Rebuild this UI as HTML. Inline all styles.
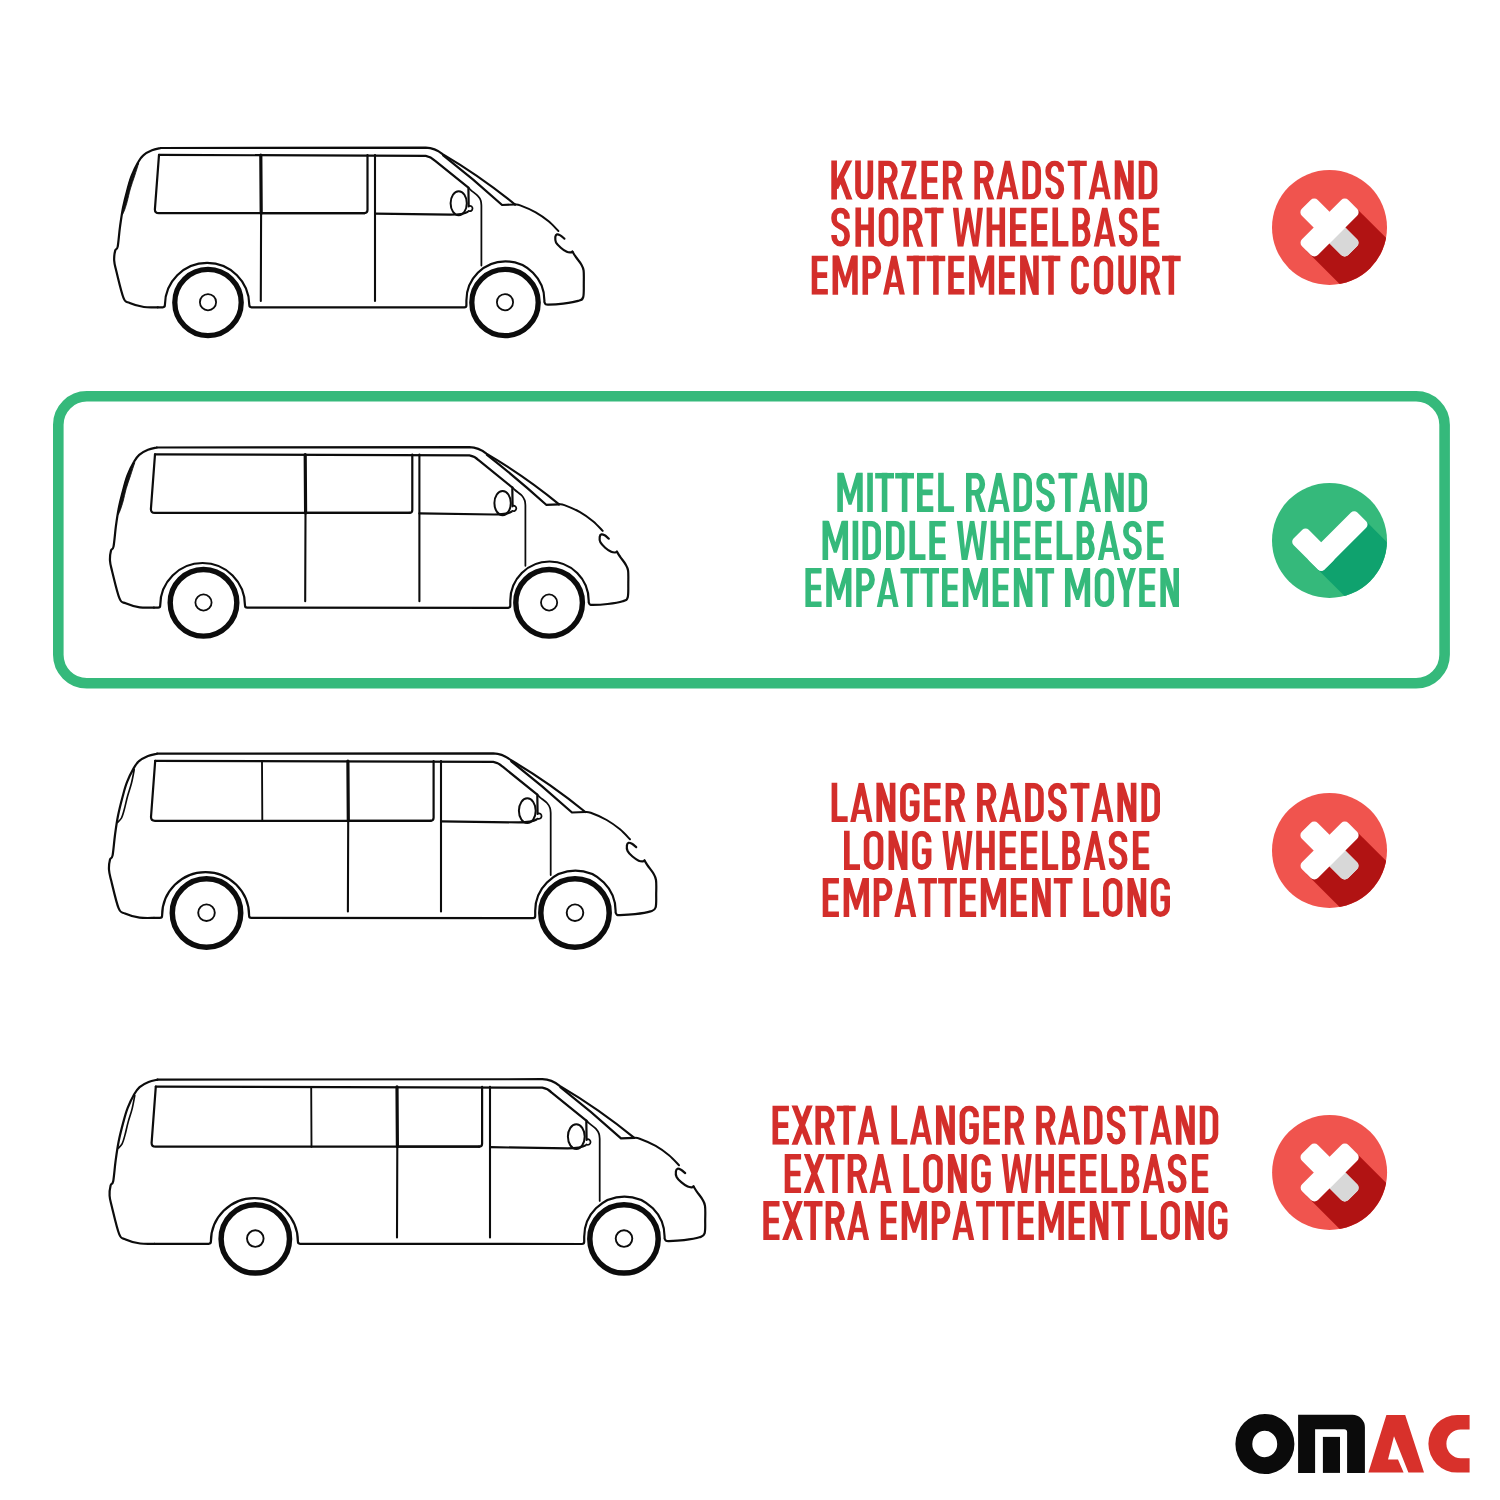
<!DOCTYPE html>
<html><head><meta charset="utf-8"><style>
html,body{margin:0;padding:0;background:#fff;width:1500px;height:1500px;overflow:hidden}
svg{display:block}
text{font-family:"Liberation Sans",sans-serif;font-weight:bold}
</style></head><body>
<svg width="1500" height="1500" viewBox="0 0 1500 1500">
<rect width="1500" height="1500" fill="#fff"/>
<rect x="58.3" y="396.3" width="1386.3" height="287" rx="28.5" fill="none" stroke="#35b97b" stroke-width="10.6"/>
<g fill="none" stroke="#0c0c0c" stroke-linecap="round" stroke-linejoin="round"><path d="M157.8 307.3 C155.5 307.2 148.6 307.7 143.9 307 C139.2 306.3 133.1 304.5 129.7 303 C126.3 301.5 125.7 303.2 123.5 297.8 C121.3 292.5 117.9 277.3 116.3 271.1 C114.8 264.9 114.4 264 114.2 260.6 C114 257.2 114.6 252.9 115.2 250.6 C115.8 248.3 116.9 250.6 117.7 246.6 C118.5 242.7 119.1 233.2 120 226.8 C120.9 220.4 121.7 214.5 122.9 208.2 C124.2 201.9 126.1 194.4 127.6 189 C129 183.6 129.9 180.1 131.7 175.6 C133.4 171.2 136.1 165.6 138.1 162.2 C140 158.8 141 157.2 143.3 155.3 C145.6 153.3 149.1 151.5 152 150.3 C154.9 149.1 159.3 148.4 160.8 148" stroke-width="2.2"/>
<path d="M157.8 307.3 L162.8 307.3 Q164.9 307.3 164.9 305.1 L164.9 305.1 A42.2 42.2 0 1 1 249.3 305.1 L249.3 305.1 Q249.3 307.3 251.5 307.3 L464.3 307.4 Q466.4 307.4 466.4 305.3 L466.4 300.4 A39 39 0 1 1 544.4 300.4 L544.4 302 C544.6 302.4 544.8 303.6 545.5 304.1 C546.3 304.5 545.7 304.7 548.6 304.6 C551.6 304.6 558.3 304.3 563.2 303.7 C568.1 303 574.9 302 578.2 300.9 C581.6 299.9 582.3 300.1 583.2 297.2 C584.1 294.2 583.7 287.5 583.8 283.1 C583.8 278.7 584 273.7 583.6 270.5 C583.1 267.3 582.2 266.3 581 264 C579.7 261.7 577.2 259 575.8 256.9 C574.4 254.8 573 252.5 572.4 251.6" stroke-width="2.2"/>
<path d="M572.4 251.6 C572.1 251.7 571.7 252.4 570.8 252.4 C569.8 252.5 568.5 252.6 566.8 251.8 C565.1 251 562.6 249.3 560.8 247.7 C559 246.1 556.9 244.1 556 242.4 C555.1 240.6 555.2 238.4 555.3 237 C555.5 235.7 556.2 234.7 557 234.4 C557.8 234.1 559.1 234.7 560.3 235.4 C561.5 236.1 563.7 238.1 564.4 238.7" stroke-width="2.2"/>
<path d="M160.8 148 L425.8 147.6 C434.2 147.8 439 151.2 442.6 154.1 Q480.6 176.4 515 204.5" stroke-width="2.2"/>
<path d="M515 204.5 C515.9 204.7 516.8 204 520.2 205.3 C523.7 206.6 531 209.6 535.7 212.3 C540.5 215 544.9 218.2 548.6 221.3 C552.4 224.4 556.7 229.4 558.4 231" stroke-width="1.9800000000000002"/>
<path d="M443.2 155.4 Q473.5 179 502.1 205 L515 204.5" stroke-width="2.2"/>
<path d="M159 154.9 L425.8 155.8 C430.3 156.6 432.7 158.5 434.9 160.6 L468.4 187.7 L468.7 206.5" stroke-width="2.2"/>
<path d="M159 154.9 L154.9 209.4 Q154.9 213.1 158.8 213.1 L364.5 213.1" stroke-width="2.2"/>
<path d="M367.5 155.1 L367.5 210.1 Q367.5 213.1 364.5 213.1" stroke-width="2.2"/>
<path d="M260.8 155.1 L261.2 213.1" stroke-width="3.19"/>
<path d="M261.1 213.1 L260.8 301" stroke-width="2.09"/>
<path d="M260.8 213.1 L364.5 213.1" stroke-width="2.2"/>
<path d="M375 155.1 L375 301" stroke-width="2.09"/>
<path d="M375 213.6 L450.4 214.6 C456.5 214.6 464.3 214 467.7 211.8" stroke-width="2.2"/>
<ellipse cx="458.7" cy="203.3" rx="8.1" ry="12" stroke-width="1.9800000000000002"/>
<path d="M469.1 205.9 A2.7 2.7 0 1 1 468.6 210.9" stroke-width="1.7600000000000002"/>
<path d="M468.5 187.6 C468.9 188 469.5 188.9 471.1 190.3 C472.6 191.6 476.2 194.1 477.8 195.8 C479.5 197.5 480.2 199 480.8 200.7 C481.3 202.3 481.3 204.7 481.4 205.5 L481.4 265.6" stroke-width="1.7600000000000002"/>
<path d="M138.6 163.4 C137.5 165.4 133.5 171.4 131.7 175.6 C129.8 179.9 128.8 184.7 127.6 189 C126.4 193.3 125.5 198.4 124.7 201.6 C123.9 204.8 123.3 206 122.9 208.2 C122.6 210.4 122.6 213.6 122.5 214.6 C122.9 213.7 124 211.5 124.8 209.4 C125.5 207.2 126.3 205 127.2 201.6 C128.1 198.2 129.1 193.3 130.3 189 C131.5 184.7 133.2 180.3 134.6 176 C136 171.7 138 165.5 138.6 163.4 Z" fill="#111" stroke-width="0.8"/>
<circle cx="208" cy="302.5" r="33.2" stroke-width="5.3"/>
<circle cx="505" cy="302.5" r="33.2" stroke-width="5.3"/>
<circle cx="208" cy="302.2" r="8.1" stroke-width="1.8"/>
<circle cx="505" cy="302.2" r="8.1" stroke-width="1.8"/></g>
<g fill="none" stroke="#0c0c0c" stroke-linecap="round" stroke-linejoin="round"><path d="M153.9 607.6 C151.5 607.5 144.5 608 139.8 607.3 C135.1 606.6 129 604.8 125.6 603.3 C122.2 601.8 121.6 603.5 119.4 598.1 C117.1 592.8 113.7 577.4 112.1 571.2 C110.6 565 110.2 564.1 110 560.7 C109.8 557.3 110.4 553 111 550.6 C111.6 548.3 112.7 550.6 113.5 546.6 C114.3 542.7 115 533.2 115.8 526.8 C116.7 520.3 117.5 514.4 118.8 508 C120 501.7 122 494.2 123.5 488.7 C124.9 483.3 125.8 479.8 127.5 475.3 C129.3 470.8 132 465.2 134 461.8 C135.9 458.4 136.9 456.8 139.2 454.8 C141.6 452.8 145.1 451 148 449.8 C151 448.6 155.3 447.9 156.8 447.5" stroke-width="2.2"/>
<path d="M153.9 607.6 L158.1 607.6 Q160.2 607.6 160.2 605.4 L160.2 605.4 A42.4 42.4 0 1 1 245 605.4 L245 605.4 Q245 607.6 247.2 607.6 L508.2 607.8 Q510.3 607.8 510.3 605.6 L510.3 600.7 A39.2 39.2 0 1 1 588.7 600.7 L588.7 602.3 C588.9 602.7 589.1 603.9 589.9 604.4 C590.6 604.8 590 605 593 604.9 C595.9 604.9 602.6 604.6 607.6 604 C612.6 603.4 619.4 602.3 622.7 601.2 C626.1 600.2 626.8 600.4 627.7 597.4 C628.6 594.4 628.2 587.8 628.3 583.3 C628.3 578.8 628.5 573.8 628.1 570.6 C627.6 567.4 626.7 566.4 625.4 564.1 C624.1 561.8 621.7 559.1 620.3 557 C618.8 554.9 617.4 552.5 616.9 551.6" stroke-width="2.2"/>
<path d="M616.9 551.6 C616.6 551.8 616.1 552.5 615.2 552.5 C614.3 552.5 612.9 552.6 611.2 551.8 C609.5 551 607 549.3 605.2 547.7 C603.4 546.1 601.3 544.1 600.4 542.3 C599.5 540.6 599.5 538.3 599.7 537 C599.9 535.7 600.5 534.6 601.4 534.4 C602.2 534.1 603.4 534.6 604.7 535.3 C605.9 536 608.1 538.1 608.8 538.6" stroke-width="2.2"/>
<path d="M156.8 447.5 L469.4 447.1 C477.9 447.3 482.8 450.7 486.4 453.6 Q524.5 476 559.1 504.3" stroke-width="2.2"/>
<path d="M559.1 504.3 C560 504.5 560.9 503.8 564.4 505.1 C567.9 506.4 575.2 509.4 580 512.1 C584.8 514.8 589.2 518.1 593 521.2 C596.8 524.3 601.1 529.3 602.7 530.9" stroke-width="1.9800000000000002"/>
<path d="M487 454.9 Q517.4 478.7 546.2 504.8 L559.1 504.3" stroke-width="2.2"/>
<path d="M155 454.4 L469.4 455.4 C474 456.2 476.5 458 478.6 460.2 L512.3 487.5 L512.6 506.3" stroke-width="2.2"/>
<path d="M155 454.4 L150.9 509.2 Q150.9 512.9 154.8 512.9 L409.3 512.9" stroke-width="2.2"/>
<path d="M412.3 454.6 L412.3 509.9 Q412.3 512.9 409.3 512.9" stroke-width="2.2"/>
<path d="M305.2 454.6 L305.6 512.9" stroke-width="3.19"/>
<path d="M305.5 512.9 L305.2 601.3" stroke-width="2.09"/>
<path d="M305.2 512.9 L409.3 512.9" stroke-width="2.2"/>
<path d="M419.4 454.6 L419.4 601.3" stroke-width="2.09"/>
<path d="M419.4 513.4 L494.2 514.5 C500.4 514.5 508.2 513.9 511.6 511.6" stroke-width="2.2"/>
<ellipse cx="502.6" cy="503.1" rx="8.2" ry="12.1" stroke-width="1.9800000000000002"/>
<path d="M513 505.7 A2.7 2.7 0 1 1 512.5 510.8" stroke-width="1.7600000000000002"/>
<path d="M512.4 487.3 C512.9 487.7 513.4 488.6 515 490 C516.5 491.4 520.2 493.8 521.8 495.5 C523.4 497.3 524.1 498.8 524.7 500.4 C525.3 502 525.3 504.5 525.4 505.3 L525.4 565.8" stroke-width="1.7600000000000002"/>
<path d="M134.6 463 C133.4 465 129.4 471 127.5 475.3 C125.7 479.6 124.6 484.4 123.5 488.7 C122.3 493.1 121.3 498.2 120.5 501.4 C119.8 504.6 119.1 505.9 118.8 508 C118.4 510.2 118.5 513.4 118.4 514.5 C118.8 513.6 119.8 511.4 120.6 509.2 C121.4 507 122.1 504.8 123.1 501.4 C124 498 125 493 126.2 488.7 C127.4 484.4 129.1 479.9 130.5 475.7 C131.9 471.4 133.9 465.1 134.6 463 Z" fill="#111" stroke-width="0.8"/>
<circle cx="203.5" cy="602.8" r="33.3" stroke-width="5.4"/>
<circle cx="549.1" cy="602.8" r="33.3" stroke-width="5.4"/>
<circle cx="203.5" cy="602.5" r="8.1" stroke-width="1.8"/>
<circle cx="549.1" cy="602.5" r="8.1" stroke-width="1.8"/></g>
<g fill="none" stroke="#0c0c0c" stroke-linecap="round" stroke-linejoin="round"><path d="M154 917.9 C151.6 917.9 144.4 918.3 139.6 917.6 C134.8 916.9 128.5 915.1 125 913.5 C121.5 911.9 120.9 913.7 118.6 908.2 C116.3 902.7 112.8 887 111.2 880.6 C109.6 874.2 109.2 873.3 109 869.8 C108.8 866.3 109.4 861.9 110 859.5 C110.6 857.1 111.8 859.5 112.6 855.4 C113.4 851.3 114.1 841.6 115 835 C115.9 828.4 116.7 822.3 118 815.8 C119.3 809.3 121.3 801.6 122.8 796 C124.3 790.4 125.2 786.8 127 782.2 C128.8 777.6 131.6 771.9 133.6 768.4 C135.6 764.9 136.6 763.2 139 761.2 C141.4 759.2 145 757.4 148 756.1 C151 754.9 155.5 754.1 157 753.7" stroke-width="2.2"/>
<path d="M154 917.9 L159.9 917.9 Q162.1 917.9 162.1 915.7 L162.1 915.6 A43.5 43.5 0 1 1 249.1 915.6 L249.1 915.7 Q249.1 917.9 251.3 917.9 L533 918.1 Q535.2 918.1 535.2 915.9 L535.2 910.9 A40.2 40.2 0 1 1 615.6 910.9 L615.6 912.5 C615.8 912.9 616.1 914.1 616.8 914.6 C617.5 915.1 617 915.3 620 915.2 C623 915.1 629.9 914.8 635 914.2 C640.1 913.6 647.1 912.5 650.5 911.4 C653.9 910.3 654.6 910.6 655.6 907.5 C656.6 904.4 656.1 897.6 656.2 893 C656.3 888.4 656.5 883.3 656 880 C655.5 876.7 654.6 875.6 653.3 873.3 C652 871 649.5 868.1 648 866 C646.5 863.9 645.1 861.4 644.5 860.5" stroke-width="2.2"/>
<path d="M644.5 860.5 C644.2 860.6 643.8 861.4 642.8 861.4 C641.8 861.4 640.4 861.5 638.7 860.7 C637 859.9 634.4 858.1 632.5 856.5 C630.6 854.9 628.5 852.8 627.6 851 C626.7 849.2 626.7 846.9 626.9 845.5 C627.1 844.1 627.8 843.1 628.6 842.8 C629.5 842.5 630.7 843.1 632 843.8 C633.3 844.5 635.5 846.6 636.2 847.2" stroke-width="2.2"/>
<path d="M157 753.7 L493.3 753.3 C502 753.5 507 757 510.7 760 Q549.8 783 585.3 812" stroke-width="2.2"/>
<path d="M585.3 812 C586.2 812.1 587.1 811.5 590.7 812.8 C594.3 814.1 601.8 817.2 606.7 820 C611.6 822.8 616.1 826.1 620 829.3 C623.9 832.5 628.3 837.6 630 839.3" stroke-width="1.9800000000000002"/>
<path d="M511.3 761.3 Q542.5 785.7 572 812.5 L585.3 812" stroke-width="2.2"/>
<path d="M155.2 760.8 L493.3 761.8 C498 762.6 500.5 764.5 502.7 766.7 L537.3 794.7 L537.6 814" stroke-width="2.2"/>
<path d="M155.2 760.8 L151 817 Q151 820.8 155 820.8 L430.6 820.8" stroke-width="2.2"/>
<path d="M433.6 761 L433.6 817.8 Q433.6 820.8 430.6 820.8" stroke-width="2.2"/>
<path d="M262 761 L262.3 820.8" stroke-width="1.87"/>
<path d="M347.9 761 L348.3 820.8" stroke-width="3.19"/>
<path d="M348.2 820.8 L347.9 911.5" stroke-width="2.09"/>
<path d="M347.9 820.8 L430.6 820.8" stroke-width="2.2"/>
<path d="M441 761 L441 911.5" stroke-width="2.09"/>
<path d="M441 821.3 L518.7 822.4 C525 822.4 533 821.8 536.5 819.5" stroke-width="2.2"/>
<ellipse cx="527.3" cy="810.7" rx="8.4" ry="12.4" stroke-width="1.9800000000000002"/>
<path d="M538 813.4 A2.8 2.8 0 1 1 537.5 818.6" stroke-width="1.7600000000000002"/>
<path d="M537.4 794.5 C537.8 795 538.4 795.9 540 797.3 C541.6 798.7 545.3 801.2 547 803 C548.7 804.8 549.4 806.3 550 808 C550.6 809.7 550.6 812.2 550.7 813 L550.7 875" stroke-width="1.7600000000000002"/>
<path d="M134.2 769.6 C133.8 771.8 132.6 778.6 131.5 783 C130.4 787.4 128.8 791.7 127.6 796 C126.4 800.3 125.4 805.3 124.4 809 C123.4 812.7 122.6 815.8 121.5 818 C120.4 820.2 118.2 821.7 117.6 822.4" stroke-width="1.6500000000000001"/>
<circle cx="206.5" cy="913" r="34.2" stroke-width="5.5"/>
<circle cx="575" cy="913" r="34.2" stroke-width="5.5"/>
<circle cx="206.5" cy="912.7" r="8.3" stroke-width="1.9"/>
<circle cx="575" cy="912.7" r="8.3" stroke-width="1.9"/></g>
<g fill="none" stroke="#0c0c0c" stroke-linecap="round" stroke-linejoin="round"><path d="M154.6 1243.8 C152.2 1243.8 145 1244.2 140.2 1243.5 C135.4 1242.8 129.1 1241 125.6 1239.4 C122.1 1237.8 121.5 1239.6 119.2 1234.1 C116.9 1228.6 113.4 1212.9 111.8 1206.5 C110.2 1200.1 109.8 1199.2 109.6 1195.7 C109.4 1192.2 110 1187.8 110.6 1185.4 C111.2 1183 112.4 1185.4 113.2 1181.3 C114 1177.2 114.7 1167.5 115.6 1160.9 C116.5 1154.3 117.3 1148.2 118.6 1141.7 C119.9 1135.2 121.9 1127.5 123.4 1121.9 C124.9 1116.3 125.8 1112.7 127.6 1108.1 C129.4 1103.5 132.2 1097.8 134.2 1094.3 C136.2 1090.8 137.2 1089.2 139.6 1087.1 C142 1085.1 145.6 1083.2 148.6 1082 C151.6 1080.8 156.1 1080 157.6 1079.6" stroke-width="2.2"/>
<path d="M154.6 1243.8 L208.7 1243.8 Q210.9 1243.8 210.9 1241.6 L210.9 1241.6 A43.5 43.5 0 1 1 297.9 1241.6 L297.9 1241.6 Q297.9 1243.8 300.1 1243.8 L582 1244 Q584.2 1244 584.2 1241.8 L584.2 1236.8 A40.2 40.2 0 1 1 664.6 1236.8 L664.6 1238.4 C664.8 1238.8 665.1 1240 665.8 1240.5 C666.5 1241 666 1241.2 669 1241.1 C672 1241 678.9 1240.7 684 1240.1 C689.1 1239.5 696.1 1238.4 699.5 1237.3 C702.9 1236.2 703.6 1236.5 704.6 1233.4 C705.6 1230.3 705.1 1223.5 705.2 1218.9 C705.3 1214.3 705.5 1209.2 705 1205.9 C704.5 1202.6 703.6 1201.5 702.3 1199.2 C701 1196.9 698.5 1194 697 1191.9 C695.5 1189.8 694.1 1187.3 693.5 1186.4" stroke-width="2.2"/>
<path d="M693.5 1186.4 C693.2 1186.6 692.8 1187.3 691.8 1187.3 C690.8 1187.3 689.4 1187.4 687.7 1186.6 C686 1185.8 683.4 1184 681.5 1182.4 C679.6 1180.8 677.5 1178.7 676.6 1176.9 C675.7 1175.1 675.7 1172.8 675.9 1171.4 C676.1 1170 676.8 1169 677.6 1168.7 C678.5 1168.4 679.7 1169 681 1169.7 C682.3 1170.4 684.5 1172.5 685.2 1173.1" stroke-width="2.2"/>
<path d="M157.6 1079.6 L542.3 1079.2 C551 1079.4 556 1082.9 559.7 1085.9 Q598.8 1108.9 634.3 1137.9" stroke-width="2.2"/>
<path d="M634.3 1137.9 C635.2 1138 636.1 1137.4 639.7 1138.7 C643.3 1140 650.8 1143.2 655.7 1145.9 C660.6 1148.7 665.1 1152 669 1155.2 C672.9 1158.4 677.3 1163.5 679 1165.2" stroke-width="1.9800000000000002"/>
<path d="M560.3 1087.2 Q591.5 1111.6 621 1138.4 L634.3 1137.9" stroke-width="2.2"/>
<path d="M155.8 1086.7 L542.3 1087.7 C547 1088.5 549.5 1090.4 551.7 1092.6 L586.3 1120.6 L586.6 1139.9" stroke-width="2.2"/>
<path d="M155.8 1086.7 L151.6 1142.9 Q151.6 1146.7 155.6 1146.7 L479.1 1146.7" stroke-width="2.2"/>
<path d="M482.1 1086.9 L482.1 1143.7 Q482.1 1146.7 479.1 1146.7" stroke-width="2.2"/>
<path d="M311.2 1086.9 L311.5 1146.7" stroke-width="1.87"/>
<path d="M397 1086.9 L397.4 1146.7" stroke-width="3.19"/>
<path d="M397.3 1146.7 L397 1237.4" stroke-width="2.09"/>
<path d="M397 1146.7 L479.1 1146.7" stroke-width="2.2"/>
<path d="M490 1086.9 L490 1237.4" stroke-width="2.09"/>
<path d="M490 1147.2 L567.7 1148.3 C574 1148.3 582 1147.7 585.5 1145.4" stroke-width="2.2"/>
<ellipse cx="576.3" cy="1136.6" rx="8.4" ry="12.4" stroke-width="1.9800000000000002"/>
<path d="M587 1139.3 A2.8 2.8 0 1 1 586.5 1144.5" stroke-width="1.7600000000000002"/>
<path d="M586.4 1120.4 C586.8 1120.9 587.4 1121.8 589 1123.2 C590.6 1124.6 594.3 1127.1 596 1128.9 C597.7 1130.7 598.4 1132.2 599 1133.9 C599.6 1135.6 599.6 1138.1 599.7 1138.9 L599.7 1200.9" stroke-width="1.7600000000000002"/>
<path d="M134.8 1095.5 C134.3 1097.7 133.2 1104.5 132.1 1108.9 C131 1113.3 129.4 1117.6 128.2 1121.9 C127 1126.2 126 1131.2 125 1134.9 C124 1138.6 123.2 1141.7 122.1 1143.9 C121 1146.1 118.8 1147.6 118.2 1148.3" stroke-width="1.6500000000000001"/>
<circle cx="255.3" cy="1238.9" r="34.2" stroke-width="5.5"/>
<circle cx="624" cy="1238.9" r="34.2" stroke-width="5.5"/>
<circle cx="255.3" cy="1238.6" r="8.3" stroke-width="1.9"/>
<circle cx="624" cy="1238.6" r="8.3" stroke-width="1.9"/></g>
<defs><clipPath id="tb"><rect x="-30" y="0" width="3000" height="39.2"/></clipPath></defs>
<g transform="translate(831.30 160.50) scale(1.0118 0.9974)" clip-path="url(#tb)"><g fill="none" stroke="#d32e2b" stroke-width="5.6" stroke-linecap="butt" stroke-linejoin="miter" stroke-miterlimit="3"><path transform="translate(0.00 0)" d="M2.8 -2 V41 M18.6 -2 L4.2 27.5 M9.4 16.2 L18.6 41"/><path transform="translate(23.60 0)" d="M2.8 -2 V29.2 A6.1 7.2 0 0 0 15 29.2 V-2"/><path transform="translate(46.50 0)" d="M2.8 41 V2.8 H9.6 A6.7 8.6 0 0 1 9.6 20 H2.8 M10.4 19.4 L17.4 41"/><path transform="translate(89.10 0)" d="M16.3 2.8 H2.8 V36.4 H16.3 M2.8 19.6 H15.6"/><path transform="translate(110.30 0)" d="M2.8 41 V2.8 H9.6 A6.7 8.6 0 0 1 9.6 20 H2.8 M10.4 19.4 L17.4 41"/><path transform="translate(141.40 0)" d="M2.8 41 V2.8 H9.6 A6.7 8.6 0 0 1 9.6 20 H2.8 M10.4 19.4 L17.4 41"/><path transform="translate(188.90 0)" d="M2.8 2.8 H8.2 A7.4 7.6 0 0 1 15.6 10.4 V28.8 A7.4 7.6 0 0 1 8.2 36.4 H2.8 Z"/><path transform="translate(211.60 0)" d="M15.6 11.2 V9.8 A6.4 7.0 0 0 0 2.8 9.8 V11.2 C2.8 16 5.2 17.6 9.4 19.3 C13.6 21 15.7 23.2 15.7 28.2 V29.1 A6.45 7.3 0 0 1 2.8 29.1 V27.4"/><path transform="translate(233.70 0)" d="M0 2.8 H18.8 M9.4 -2 V41"/><path transform="translate(280.10 0)" d="M2.8 41 V-2 M16 -2 V41"/><path transform="translate(303.80 0)" d="M2.8 2.8 H8.2 A7.4 7.6 0 0 1 15.6 10.4 V28.8 A7.4 7.6 0 0 1 8.2 36.4 H2.8 Z"/></g><g fill="#d32e2b" fill-rule="evenodd"><path transform="translate(68.60 0)" d="M0.8 0 H15.4 V5.4 L6.0 33.8 H15.6 V39.2 H0 V33.8 L9.4 5.6 H0.8 Z"/><path transform="translate(163.10 0)" d="M0 39.2 L8.4 0 H13.6 L22 39.2 H16.7 L15.03 31.4 H6.97 L5.3 39.2 Z M7.91 27 H14.09 L11 12.6 Z"/><path transform="translate(254.20 0)" d="M0 39.2 L8.4 0 H13.6 L22 39.2 H16.7 L15.03 31.4 H6.97 L5.3 39.2 Z M7.91 27 H14.09 L11 12.6 Z"/><path transform="translate(280.10 0)" d="M0.2 0 H6.1 L18.6 39.2 H12.7 Z"/></g></g>
<g transform="translate(831.30 207.60) scale(1.0052 0.9974)" clip-path="url(#tb)"><g fill="none" stroke="#d32e2b" stroke-width="5.6" stroke-linecap="butt" stroke-linejoin="miter" stroke-miterlimit="3"><path transform="translate(0.00 0)" d="M15.6 11.2 V9.8 A6.4 7.0 0 0 0 2.8 9.8 V11.2 C2.8 16 5.2 17.6 9.4 19.3 C13.6 21 15.7 23.2 15.7 28.2 V29.1 A6.45 7.3 0 0 1 2.8 29.1 V27.4"/><path transform="translate(24.00 0)" d="M2.8 -2 V41 M15.6 -2 V41 M2.8 19.8 H15.6"/><path transform="translate(47.20 0)" d="M2.8 9.9 A6.95 7.1 0 0 1 16.7 9.9 V29.3 A6.95 7.1 0 0 1 2.8 29.3 Z"/><path transform="translate(71.70 0)" d="M2.8 41 V2.8 H9.6 A6.7 8.6 0 0 1 9.6 20 H2.8 M10.4 19.4 L17.4 41"/><path transform="translate(92.90 0)" d="M0 2.8 H18.8 M9.4 -2 V41"/><path transform="translate(154.50 0)" d="M2.8 -2 V41 M15.6 -2 V41 M2.8 19.8 H15.6"/><path transform="translate(177.80 0)" d="M16.3 2.8 H2.8 V36.4 H16.3 M2.8 19.6 H15.6"/><path transform="translate(198.90 0)" d="M16.3 2.8 H2.8 V36.4 H16.3 M2.8 19.6 H15.6"/><path transform="translate(220.00 0)" d="M2.8 -2 V36.4 H15.9"/><path transform="translate(239.90 0)" d="M2.8 19.5 H8.6 A6.1 8.35 0 0 0 8.6 2.8 H2.8 V36.4 H9.1 A6.1 8.45 0 0 0 9.1 19.5"/><path transform="translate(286.10 0)" d="M15.6 11.2 V9.8 A6.4 7.0 0 0 0 2.8 9.8 V11.2 C2.8 16 5.2 17.6 9.4 19.3 C13.6 21 15.7 23.2 15.7 28.2 V29.1 A6.45 7.3 0 0 1 2.8 29.1 V27.4"/><path transform="translate(310.00 0)" d="M16.3 2.8 H2.8 V36.4 H16.3 M2.8 19.6 H15.6"/></g><g fill="#d32e2b" fill-rule="evenodd"><path transform="translate(120.90 0)" d="M0 0 H5.6 L8.1 28.3 L13 0 H17.4 L22.1 28.3 L24.6 0 H30 L25.3 39.2 H19.9 L15.2 13.7 L10.5 39.2 H4.8 Z"/><path transform="translate(261.00 0)" d="M0 39.2 L8.4 0 H13.6 L22 39.2 H16.7 L15.03 31.4 H6.97 L5.3 39.2 Z M7.91 27 H14.09 L11 12.6 Z"/></g></g>
<g transform="translate(811.70 255.60) scale(0.9922 0.9974)" clip-path="url(#tb)"><g fill="none" stroke="#d32e2b" stroke-width="5.6" stroke-linecap="butt" stroke-linejoin="miter" stroke-miterlimit="3"><path transform="translate(0.00 0)" d="M16.3 2.8 H2.8 V36.4 H16.3 M2.8 19.6 H15.6"/><path transform="translate(21.00 0)" d="M2.8 41 V-2 M22.6 -2 V41"/><path transform="translate(51.20 0)" d="M2.8 41 V2.8 H9.2 A6.8 8.8 0 0 1 9.2 20.4 H2.8"/><path transform="translate(95.80 0)" d="M0 2.8 H18.8 M9.4 -2 V41"/><path transform="translate(115.80 0)" d="M0 2.8 H18.8 M9.4 -2 V41"/><path transform="translate(137.60 0)" d="M16.3 2.8 H2.8 V36.4 H16.3 M2.8 19.6 H15.6"/><path transform="translate(158.60 0)" d="M2.8 41 V-2 M22.6 -2 V41"/><path transform="translate(188.70 0)" d="M16.3 2.8 H2.8 V36.4 H16.3 M2.8 19.6 H15.6"/><path transform="translate(210.00 0)" d="M2.8 41 V-2 M16 -2 V41"/><path transform="translate(231.80 0)" d="M0 2.8 H18.8 M9.4 -2 V41"/><path transform="translate(261.50 0)" d="M15.1 11.2 V9.9 A6.15 7.1 0 0 0 2.8 9.9 V29.3 A6.15 7.1 0 0 0 15.1 29.3 V27.6"/><path transform="translate(284.40 0)" d="M2.8 9.9 A6.95 7.1 0 0 1 16.7 9.9 V29.3 A6.95 7.1 0 0 1 2.8 29.3 Z"/><path transform="translate(309.00 0)" d="M2.8 -2 V29.2 A6.1 7.2 0 0 0 15 29.2 V-2"/><path transform="translate(331.90 0)" d="M2.8 41 V2.8 H9.6 A6.7 8.6 0 0 1 9.6 20 H2.8 M10.4 19.4 L17.4 41"/><path transform="translate(353.10 0)" d="M0 2.8 H18.8 M9.4 -2 V41"/></g><g fill="#d32e2b" fill-rule="evenodd"><path transform="translate(21.00 0)" d="M0.6 0 H6.4 L12.7 21.5 L19.0 0 H24.8 L14.2 32 H11.2 Z"/><path transform="translate(71.90 0)" d="M0 39.2 L8.4 0 H13.6 L22 39.2 H16.7 L15.03 31.4 H6.97 L5.3 39.2 Z M7.91 27 H14.09 L11 12.6 Z"/><path transform="translate(158.60 0)" d="M0.6 0 H6.4 L12.7 21.5 L19.0 0 H24.8 L14.2 32 H11.2 Z"/><path transform="translate(210.00 0)" d="M0.2 0 H6.1 L18.6 39.2 H12.7 Z"/></g></g>
<g transform="translate(837.30 472.80) scale(1.0016 0.9974)" clip-path="url(#tb)"><g fill="none" stroke="#35b97b" stroke-width="5.6" stroke-linecap="butt" stroke-linejoin="miter" stroke-miterlimit="3"><path transform="translate(0.00 0)" d="M2.8 41 V-2 M22.6 -2 V41"/><path transform="translate(29.80 0)" d="M2.9 -2 V41"/><path transform="translate(37.80 0)" d="M0 2.8 H18.8 M9.4 -2 V41"/><path transform="translate(57.80 0)" d="M0 2.8 H18.8 M9.4 -2 V41"/><path transform="translate(79.60 0)" d="M16.3 2.8 H2.8 V36.4 H16.3 M2.8 19.6 H15.6"/><path transform="translate(100.70 0)" d="M2.8 -2 V36.4 H15.9"/><path transform="translate(128.50 0)" d="M2.8 41 V2.8 H9.6 A6.7 8.6 0 0 1 9.6 20 H2.8 M10.4 19.4 L17.4 41"/><path transform="translate(176.00 0)" d="M2.8 2.8 H8.2 A7.4 7.6 0 0 1 15.6 10.4 V28.8 A7.4 7.6 0 0 1 8.2 36.4 H2.8 Z"/><path transform="translate(198.70 0)" d="M15.6 11.2 V9.8 A6.4 7.0 0 0 0 2.8 9.8 V11.2 C2.8 16 5.2 17.6 9.4 19.3 C13.6 21 15.7 23.2 15.7 28.2 V29.1 A6.45 7.3 0 0 1 2.8 29.1 V27.4"/><path transform="translate(220.80 0)" d="M0 2.8 H18.8 M9.4 -2 V41"/><path transform="translate(267.20 0)" d="M2.8 41 V-2 M16 -2 V41"/><path transform="translate(290.90 0)" d="M2.8 2.8 H8.2 A7.4 7.6 0 0 1 15.6 10.4 V28.8 A7.4 7.6 0 0 1 8.2 36.4 H2.8 Z"/></g><g fill="#35b97b" fill-rule="evenodd"><path transform="translate(0.00 0)" d="M0.6 0 H6.4 L12.7 21.5 L19.0 0 H24.8 L14.2 32 H11.2 Z"/><path transform="translate(150.20 0)" d="M0 39.2 L8.4 0 H13.6 L22 39.2 H16.7 L15.03 31.4 H6.97 L5.3 39.2 Z M7.91 27 H14.09 L11 12.6 Z"/><path transform="translate(241.30 0)" d="M0 39.2 L8.4 0 H13.6 L22 39.2 H16.7 L15.03 31.4 H6.97 L5.3 39.2 Z M7.91 27 H14.09 L11 12.6 Z"/><path transform="translate(267.20 0)" d="M0.2 0 H6.1 L18.6 39.2 H12.7 Z"/></g></g>
<g transform="translate(822.50 520.80) scale(1.0068 0.9974)" clip-path="url(#tb)"><g fill="none" stroke="#35b97b" stroke-width="5.6" stroke-linecap="butt" stroke-linejoin="miter" stroke-miterlimit="3"><path transform="translate(0.00 0)" d="M2.8 41 V-2 M22.6 -2 V41"/><path transform="translate(29.80 0)" d="M2.9 -2 V41"/><path transform="translate(39.70 0)" d="M2.8 2.8 H8.2 A7.4 7.6 0 0 1 15.6 10.4 V28.8 A7.4 7.6 0 0 1 8.2 36.4 H2.8 Z"/><path transform="translate(63.10 0)" d="M2.8 2.8 H8.2 A7.4 7.6 0 0 1 15.6 10.4 V28.8 A7.4 7.6 0 0 1 8.2 36.4 H2.8 Z"/><path transform="translate(86.40 0)" d="M2.8 -2 V36.4 H15.9"/><path transform="translate(106.10 0)" d="M16.3 2.8 H2.8 V36.4 H16.3 M2.8 19.6 H15.6"/><path transform="translate(167.00 0)" d="M2.8 -2 V41 M15.6 -2 V41 M2.8 19.8 H15.6"/><path transform="translate(190.30 0)" d="M16.3 2.8 H2.8 V36.4 H16.3 M2.8 19.6 H15.6"/><path transform="translate(211.40 0)" d="M16.3 2.8 H2.8 V36.4 H16.3 M2.8 19.6 H15.6"/><path transform="translate(232.50 0)" d="M2.8 -2 V36.4 H15.9"/><path transform="translate(252.40 0)" d="M2.8 19.5 H8.6 A6.1 8.35 0 0 0 8.6 2.8 H2.8 V36.4 H9.1 A6.1 8.45 0 0 0 9.1 19.5"/><path transform="translate(298.60 0)" d="M15.6 11.2 V9.8 A6.4 7.0 0 0 0 2.8 9.8 V11.2 C2.8 16 5.2 17.6 9.4 19.3 C13.6 21 15.7 23.2 15.7 28.2 V29.1 A6.45 7.3 0 0 1 2.8 29.1 V27.4"/><path transform="translate(322.50 0)" d="M16.3 2.8 H2.8 V36.4 H16.3 M2.8 19.6 H15.6"/></g><g fill="#35b97b" fill-rule="evenodd"><path transform="translate(0.00 0)" d="M0.6 0 H6.4 L12.7 21.5 L19.0 0 H24.8 L14.2 32 H11.2 Z"/><path transform="translate(133.40 0)" d="M0 0 H5.6 L8.1 28.3 L13 0 H17.4 L22.1 28.3 L24.6 0 H30 L25.3 39.2 H19.9 L15.2 13.7 L10.5 39.2 H4.8 Z"/><path transform="translate(273.50 0)" d="M0 39.2 L8.4 0 H13.6 L22 39.2 H16.7 L15.03 31.4 H6.97 L5.3 39.2 Z M7.91 27 H14.09 L11 12.6 Z"/></g></g>
<g transform="translate(805.40 568.00) scale(0.9926 0.9974)" clip-path="url(#tb)"><g fill="none" stroke="#35b97b" stroke-width="5.6" stroke-linecap="butt" stroke-linejoin="miter" stroke-miterlimit="3"><path transform="translate(0.00 0)" d="M16.3 2.8 H2.8 V36.4 H16.3 M2.8 19.6 H15.6"/><path transform="translate(21.00 0)" d="M2.8 41 V-2 M22.6 -2 V41"/><path transform="translate(51.20 0)" d="M2.8 41 V2.8 H9.2 A6.8 8.8 0 0 1 9.2 20.4 H2.8"/><path transform="translate(95.80 0)" d="M0 2.8 H18.8 M9.4 -2 V41"/><path transform="translate(115.80 0)" d="M0 2.8 H18.8 M9.4 -2 V41"/><path transform="translate(137.60 0)" d="M16.3 2.8 H2.8 V36.4 H16.3 M2.8 19.6 H15.6"/><path transform="translate(158.60 0)" d="M2.8 41 V-2 M22.6 -2 V41"/><path transform="translate(188.70 0)" d="M16.3 2.8 H2.8 V36.4 H16.3 M2.8 19.6 H15.6"/><path transform="translate(210.00 0)" d="M2.8 41 V-2 M16 -2 V41"/><path transform="translate(231.80 0)" d="M0 2.8 H18.8 M9.4 -2 V41"/><path transform="translate(261.50 0)" d="M2.8 41 V-2 M22.6 -2 V41"/><path transform="translate(291.50 0)" d="M2.8 9.9 A6.95 7.1 0 0 1 16.7 9.9 V29.3 A6.95 7.1 0 0 1 2.8 29.3 Z"/><path transform="translate(313.60 0)" d="M2.2 -3 L9.8 22.5 L17.4 -3 M9.8 21 V41"/><path transform="translate(336.30 0)" d="M16.3 2.8 H2.8 V36.4 H16.3 M2.8 19.6 H15.6"/><path transform="translate(357.60 0)" d="M2.8 41 V-2 M16 -2 V41"/></g><g fill="#35b97b" fill-rule="evenodd"><path transform="translate(21.00 0)" d="M0.6 0 H6.4 L12.7 21.5 L19.0 0 H24.8 L14.2 32 H11.2 Z"/><path transform="translate(71.90 0)" d="M0 39.2 L8.4 0 H13.6 L22 39.2 H16.7 L15.03 31.4 H6.97 L5.3 39.2 Z M7.91 27 H14.09 L11 12.6 Z"/><path transform="translate(158.60 0)" d="M0.6 0 H6.4 L12.7 21.5 L19.0 0 H24.8 L14.2 32 H11.2 Z"/><path transform="translate(210.00 0)" d="M0.2 0 H6.1 L18.6 39.2 H12.7 Z"/><path transform="translate(261.50 0)" d="M0.6 0 H6.4 L12.7 21.5 L19.0 0 H24.8 L14.2 32 H11.2 Z"/><path transform="translate(357.60 0)" d="M0.2 0 H6.1 L18.6 39.2 H12.7 Z"/></g></g>
<g transform="translate(831.60 782.80) scale(1.0117 0.9974)" clip-path="url(#tb)"><g fill="none" stroke="#d32e2b" stroke-width="5.6" stroke-linecap="butt" stroke-linejoin="miter" stroke-miterlimit="3"><path transform="translate(0.00 0)" d="M2.8 -2 V36.4 H15.9"/><path transform="translate(44.30 0)" d="M2.8 41 V-2 M16 -2 V41"/><path transform="translate(67.70 0)" d="M16.4 11.6 V9.9 A6.8 7.1 0 0 0 2.8 9.9 V29.3 A6.8 7.1 0 0 0 16.4 29.3 V20.6 H9.6"/><path transform="translate(91.50 0)" d="M16.3 2.8 H2.8 V36.4 H16.3 M2.8 19.6 H15.6"/><path transform="translate(112.70 0)" d="M2.8 41 V2.8 H9.6 A6.7 8.6 0 0 1 9.6 20 H2.8 M10.4 19.4 L17.4 41"/><path transform="translate(143.80 0)" d="M2.8 41 V2.8 H9.6 A6.7 8.6 0 0 1 9.6 20 H2.8 M10.4 19.4 L17.4 41"/><path transform="translate(191.30 0)" d="M2.8 2.8 H8.2 A7.4 7.6 0 0 1 15.6 10.4 V28.8 A7.4 7.6 0 0 1 8.2 36.4 H2.8 Z"/><path transform="translate(214.00 0)" d="M15.6 11.2 V9.8 A6.4 7.0 0 0 0 2.8 9.8 V11.2 C2.8 16 5.2 17.6 9.4 19.3 C13.6 21 15.7 23.2 15.7 28.2 V29.1 A6.45 7.3 0 0 1 2.8 29.1 V27.4"/><path transform="translate(236.10 0)" d="M0 2.8 H18.8 M9.4 -2 V41"/><path transform="translate(282.50 0)" d="M2.8 41 V-2 M16 -2 V41"/><path transform="translate(306.20 0)" d="M2.8 2.8 H8.2 A7.4 7.6 0 0 1 15.6 10.4 V28.8 A7.4 7.6 0 0 1 8.2 36.4 H2.8 Z"/></g><g fill="#d32e2b" fill-rule="evenodd"><path transform="translate(18.40 0)" d="M0 39.2 L8.4 0 H13.6 L22 39.2 H16.7 L15.03 31.4 H6.97 L5.3 39.2 Z M7.91 27 H14.09 L11 12.6 Z"/><path transform="translate(44.30 0)" d="M0.2 0 H6.1 L18.6 39.2 H12.7 Z"/><path transform="translate(165.50 0)" d="M0 39.2 L8.4 0 H13.6 L22 39.2 H16.7 L15.03 31.4 H6.97 L5.3 39.2 Z M7.91 27 H14.09 L11 12.6 Z"/><path transform="translate(256.60 0)" d="M0 39.2 L8.4 0 H13.6 L22 39.2 H16.7 L15.03 31.4 H6.97 L5.3 39.2 Z M7.91 27 H14.09 L11 12.6 Z"/><path transform="translate(282.50 0)" d="M0.2 0 H6.1 L18.6 39.2 H12.7 Z"/></g></g>
<g transform="translate(844.00 830.80) scale(1.0076 0.9974)" clip-path="url(#tb)"><g fill="none" stroke="#d32e2b" stroke-width="5.6" stroke-linecap="butt" stroke-linejoin="miter" stroke-miterlimit="3"><path transform="translate(0.00 0)" d="M2.8 -2 V36.4 H15.9"/><path transform="translate(19.60 0)" d="M2.8 9.9 A6.95 7.1 0 0 1 16.7 9.9 V29.3 A6.95 7.1 0 0 1 2.8 29.3 Z"/><path transform="translate(44.20 0)" d="M2.8 41 V-2 M16 -2 V41"/><path transform="translate(67.60 0)" d="M16.4 11.6 V9.9 A6.8 7.1 0 0 0 2.8 9.9 V29.3 A6.8 7.1 0 0 0 16.4 29.3 V20.6 H9.6"/><path transform="translate(131.20 0)" d="M2.8 -2 V41 M15.6 -2 V41 M2.8 19.8 H15.6"/><path transform="translate(154.50 0)" d="M16.3 2.8 H2.8 V36.4 H16.3 M2.8 19.6 H15.6"/><path transform="translate(175.60 0)" d="M16.3 2.8 H2.8 V36.4 H16.3 M2.8 19.6 H15.6"/><path transform="translate(196.70 0)" d="M2.8 -2 V36.4 H15.9"/><path transform="translate(216.60 0)" d="M2.8 19.5 H8.6 A6.1 8.35 0 0 0 8.6 2.8 H2.8 V36.4 H9.1 A6.1 8.45 0 0 0 9.1 19.5"/><path transform="translate(262.80 0)" d="M15.6 11.2 V9.8 A6.4 7.0 0 0 0 2.8 9.8 V11.2 C2.8 16 5.2 17.6 9.4 19.3 C13.6 21 15.7 23.2 15.7 28.2 V29.1 A6.45 7.3 0 0 1 2.8 29.1 V27.4"/><path transform="translate(286.70 0)" d="M16.3 2.8 H2.8 V36.4 H16.3 M2.8 19.6 H15.6"/></g><g fill="#d32e2b" fill-rule="evenodd"><path transform="translate(44.20 0)" d="M0.2 0 H6.1 L18.6 39.2 H12.7 Z"/><path transform="translate(97.60 0)" d="M0 0 H5.6 L8.1 28.3 L13 0 H17.4 L22.1 28.3 L24.6 0 H30 L25.3 39.2 H19.9 L15.2 13.7 L10.5 39.2 H4.8 Z"/><path transform="translate(237.70 0)" d="M0 39.2 L8.4 0 H13.6 L22 39.2 H16.7 L15.03 31.4 H6.97 L5.3 39.2 Z M7.91 27 H14.09 L11 12.6 Z"/></g></g>
<g transform="translate(822.70 877.90) scale(0.9968 0.9974)" clip-path="url(#tb)"><g fill="none" stroke="#d32e2b" stroke-width="5.6" stroke-linecap="butt" stroke-linejoin="miter" stroke-miterlimit="3"><path transform="translate(0.00 0)" d="M16.3 2.8 H2.8 V36.4 H16.3 M2.8 19.6 H15.6"/><path transform="translate(21.00 0)" d="M2.8 41 V-2 M22.6 -2 V41"/><path transform="translate(51.20 0)" d="M2.8 41 V2.8 H9.2 A6.8 8.8 0 0 1 9.2 20.4 H2.8"/><path transform="translate(95.80 0)" d="M0 2.8 H18.8 M9.4 -2 V41"/><path transform="translate(115.80 0)" d="M0 2.8 H18.8 M9.4 -2 V41"/><path transform="translate(137.60 0)" d="M16.3 2.8 H2.8 V36.4 H16.3 M2.8 19.6 H15.6"/><path transform="translate(158.60 0)" d="M2.8 41 V-2 M22.6 -2 V41"/><path transform="translate(188.70 0)" d="M16.3 2.8 H2.8 V36.4 H16.3 M2.8 19.6 H15.6"/><path transform="translate(210.00 0)" d="M2.8 41 V-2 M16 -2 V41"/><path transform="translate(231.80 0)" d="M0 2.8 H18.8 M9.4 -2 V41"/><path transform="translate(261.60 0)" d="M2.8 -2 V36.4 H15.9"/><path transform="translate(281.20 0)" d="M2.8 9.9 A6.95 7.1 0 0 1 16.7 9.9 V29.3 A6.95 7.1 0 0 1 2.8 29.3 Z"/><path transform="translate(305.80 0)" d="M2.8 41 V-2 M16 -2 V41"/><path transform="translate(329.20 0)" d="M16.4 11.6 V9.9 A6.8 7.1 0 0 0 2.8 9.9 V29.3 A6.8 7.1 0 0 0 16.4 29.3 V20.6 H9.6"/></g><g fill="#d32e2b" fill-rule="evenodd"><path transform="translate(21.00 0)" d="M0.6 0 H6.4 L12.7 21.5 L19.0 0 H24.8 L14.2 32 H11.2 Z"/><path transform="translate(71.90 0)" d="M0 39.2 L8.4 0 H13.6 L22 39.2 H16.7 L15.03 31.4 H6.97 L5.3 39.2 Z M7.91 27 H14.09 L11 12.6 Z"/><path transform="translate(158.60 0)" d="M0.6 0 H6.4 L12.7 21.5 L19.0 0 H24.8 L14.2 32 H11.2 Z"/><path transform="translate(210.00 0)" d="M0.2 0 H6.1 L18.6 39.2 H12.7 Z"/><path transform="translate(305.80 0)" d="M0.2 0 H6.1 L18.6 39.2 H12.7 Z"/></g></g>
<g transform="translate(772.50 1105.60) scale(1.0072 0.9974)" clip-path="url(#tb)"><g fill="none" stroke="#d32e2b" stroke-width="5.6" stroke-linecap="butt" stroke-linejoin="miter" stroke-miterlimit="3"><path transform="translate(0.00 0)" d="M16.3 2.8 H2.8 V36.4 H16.3 M2.8 19.6 H15.6"/><path transform="translate(19.00 0)" d="M1.8 -3 L19 42.2 M19 -3 L1.8 42.2"/><path transform="translate(42.60 0)" d="M2.8 41 V2.8 H9.6 A6.7 8.6 0 0 1 9.6 20 H2.8 M10.4 19.4 L17.4 41"/><path transform="translate(63.80 0)" d="M0 2.8 H18.8 M9.4 -2 V41"/><path transform="translate(118.00 0)" d="M2.8 -2 V36.4 H15.9"/><path transform="translate(162.30 0)" d="M2.8 41 V-2 M16 -2 V41"/><path transform="translate(185.70 0)" d="M16.4 11.6 V9.9 A6.8 7.1 0 0 0 2.8 9.9 V29.3 A6.8 7.1 0 0 0 16.4 29.3 V20.6 H9.6"/><path transform="translate(209.50 0)" d="M16.3 2.8 H2.8 V36.4 H16.3 M2.8 19.6 H15.6"/><path transform="translate(230.70 0)" d="M2.8 41 V2.8 H9.6 A6.7 8.6 0 0 1 9.6 20 H2.8 M10.4 19.4 L17.4 41"/><path transform="translate(261.80 0)" d="M2.8 41 V2.8 H9.6 A6.7 8.6 0 0 1 9.6 20 H2.8 M10.4 19.4 L17.4 41"/><path transform="translate(309.30 0)" d="M2.8 2.8 H8.2 A7.4 7.6 0 0 1 15.6 10.4 V28.8 A7.4 7.6 0 0 1 8.2 36.4 H2.8 Z"/><path transform="translate(332.00 0)" d="M15.6 11.2 V9.8 A6.4 7.0 0 0 0 2.8 9.8 V11.2 C2.8 16 5.2 17.6 9.4 19.3 C13.6 21 15.7 23.2 15.7 28.2 V29.1 A6.45 7.3 0 0 1 2.8 29.1 V27.4"/><path transform="translate(354.10 0)" d="M0 2.8 H18.8 M9.4 -2 V41"/><path transform="translate(400.50 0)" d="M2.8 41 V-2 M16 -2 V41"/><path transform="translate(424.20 0)" d="M2.8 2.8 H8.2 A7.4 7.6 0 0 1 15.6 10.4 V28.8 A7.4 7.6 0 0 1 8.2 36.4 H2.8 Z"/></g><g fill="#d32e2b" fill-rule="evenodd"><path transform="translate(84.30 0)" d="M0 39.2 L8.4 0 H13.6 L22 39.2 H16.7 L15.03 31.4 H6.97 L5.3 39.2 Z M7.91 27 H14.09 L11 12.6 Z"/><path transform="translate(136.40 0)" d="M0 39.2 L8.4 0 H13.6 L22 39.2 H16.7 L15.03 31.4 H6.97 L5.3 39.2 Z M7.91 27 H14.09 L11 12.6 Z"/><path transform="translate(162.30 0)" d="M0.2 0 H6.1 L18.6 39.2 H12.7 Z"/><path transform="translate(283.50 0)" d="M0 39.2 L8.4 0 H13.6 L22 39.2 H16.7 L15.03 31.4 H6.97 L5.3 39.2 Z M7.91 27 H14.09 L11 12.6 Z"/><path transform="translate(374.60 0)" d="M0 39.2 L8.4 0 H13.6 L22 39.2 H16.7 L15.03 31.4 H6.97 L5.3 39.2 Z M7.91 27 H14.09 L11 12.6 Z"/><path transform="translate(400.50 0)" d="M0.2 0 H6.1 L18.6 39.2 H12.7 Z"/></g></g>
<g transform="translate(784.70 1153.90) scale(1.0062 0.9974)" clip-path="url(#tb)"><g fill="none" stroke="#d32e2b" stroke-width="5.6" stroke-linecap="butt" stroke-linejoin="miter" stroke-miterlimit="3"><path transform="translate(0.00 0)" d="M16.3 2.8 H2.8 V36.4 H16.3 M2.8 19.6 H15.6"/><path transform="translate(19.00 0)" d="M1.8 -3 L19 42.2 M19 -3 L1.8 42.2"/><path transform="translate(40.70 0)" d="M0 2.8 H18.8 M9.4 -2 V41"/><path transform="translate(62.60 0)" d="M2.8 41 V2.8 H9.6 A6.7 8.6 0 0 1 9.6 20 H2.8 M10.4 19.4 L17.4 41"/><path transform="translate(118.00 0)" d="M2.8 -2 V36.4 H15.9"/><path transform="translate(137.60 0)" d="M2.8 9.9 A6.95 7.1 0 0 1 16.7 9.9 V29.3 A6.95 7.1 0 0 1 2.8 29.3 Z"/><path transform="translate(162.20 0)" d="M2.8 41 V-2 M16 -2 V41"/><path transform="translate(185.60 0)" d="M16.4 11.6 V9.9 A6.8 7.1 0 0 0 2.8 9.9 V29.3 A6.8 7.1 0 0 0 16.4 29.3 V20.6 H9.6"/><path transform="translate(249.20 0)" d="M2.8 -2 V41 M15.6 -2 V41 M2.8 19.8 H15.6"/><path transform="translate(272.50 0)" d="M16.3 2.8 H2.8 V36.4 H16.3 M2.8 19.6 H15.6"/><path transform="translate(293.60 0)" d="M16.3 2.8 H2.8 V36.4 H16.3 M2.8 19.6 H15.6"/><path transform="translate(314.70 0)" d="M2.8 -2 V36.4 H15.9"/><path transform="translate(334.60 0)" d="M2.8 19.5 H8.6 A6.1 8.35 0 0 0 8.6 2.8 H2.8 V36.4 H9.1 A6.1 8.45 0 0 0 9.1 19.5"/><path transform="translate(380.80 0)" d="M15.6 11.2 V9.8 A6.4 7.0 0 0 0 2.8 9.8 V11.2 C2.8 16 5.2 17.6 9.4 19.3 C13.6 21 15.7 23.2 15.7 28.2 V29.1 A6.45 7.3 0 0 1 2.8 29.1 V27.4"/><path transform="translate(404.70 0)" d="M16.3 2.8 H2.8 V36.4 H16.3 M2.8 19.6 H15.6"/></g><g fill="#d32e2b" fill-rule="evenodd"><path transform="translate(84.30 0)" d="M0 39.2 L8.4 0 H13.6 L22 39.2 H16.7 L15.03 31.4 H6.97 L5.3 39.2 Z M7.91 27 H14.09 L11 12.6 Z"/><path transform="translate(162.20 0)" d="M0.2 0 H6.1 L18.6 39.2 H12.7 Z"/><path transform="translate(215.60 0)" d="M0 0 H5.6 L8.1 28.3 L13 0 H17.4 L22.1 28.3 L24.6 0 H30 L25.3 39.2 H19.9 L15.2 13.7 L10.5 39.2 H4.8 Z"/><path transform="translate(355.70 0)" d="M0 39.2 L8.4 0 H13.6 L22 39.2 H16.7 L15.03 31.4 H6.97 L5.3 39.2 Z M7.91 27 H14.09 L11 12.6 Z"/></g></g>
<g transform="translate(763.30 1200.90) scale(0.9953 0.9974)" clip-path="url(#tb)"><g fill="none" stroke="#d32e2b" stroke-width="5.6" stroke-linecap="butt" stroke-linejoin="miter" stroke-miterlimit="3"><path transform="translate(0.00 0)" d="M16.3 2.8 H2.8 V36.4 H16.3 M2.8 19.6 H15.6"/><path transform="translate(19.00 0)" d="M1.8 -3 L19 42.2 M19 -3 L1.8 42.2"/><path transform="translate(40.70 0)" d="M0 2.8 H18.8 M9.4 -2 V41"/><path transform="translate(62.60 0)" d="M2.8 41 V2.8 H9.6 A6.7 8.6 0 0 1 9.6 20 H2.8 M10.4 19.4 L17.4 41"/><path transform="translate(118.00 0)" d="M16.3 2.8 H2.8 V36.4 H16.3 M2.8 19.6 H15.6"/><path transform="translate(139.00 0)" d="M2.8 41 V-2 M22.6 -2 V41"/><path transform="translate(169.20 0)" d="M2.8 41 V2.8 H9.2 A6.8 8.8 0 0 1 9.2 20.4 H2.8"/><path transform="translate(213.80 0)" d="M0 2.8 H18.8 M9.4 -2 V41"/><path transform="translate(233.80 0)" d="M0 2.8 H18.8 M9.4 -2 V41"/><path transform="translate(255.60 0)" d="M16.3 2.8 H2.8 V36.4 H16.3 M2.8 19.6 H15.6"/><path transform="translate(276.60 0)" d="M2.8 41 V-2 M22.6 -2 V41"/><path transform="translate(306.70 0)" d="M16.3 2.8 H2.8 V36.4 H16.3 M2.8 19.6 H15.6"/><path transform="translate(328.00 0)" d="M2.8 41 V-2 M16 -2 V41"/><path transform="translate(349.80 0)" d="M0 2.8 H18.8 M9.4 -2 V41"/><path transform="translate(379.60 0)" d="M2.8 -2 V36.4 H15.9"/><path transform="translate(399.20 0)" d="M2.8 9.9 A6.95 7.1 0 0 1 16.7 9.9 V29.3 A6.95 7.1 0 0 1 2.8 29.3 Z"/><path transform="translate(423.80 0)" d="M2.8 41 V-2 M16 -2 V41"/><path transform="translate(447.20 0)" d="M16.4 11.6 V9.9 A6.8 7.1 0 0 0 2.8 9.9 V29.3 A6.8 7.1 0 0 0 16.4 29.3 V20.6 H9.6"/></g><g fill="#d32e2b" fill-rule="evenodd"><path transform="translate(84.30 0)" d="M0 39.2 L8.4 0 H13.6 L22 39.2 H16.7 L15.03 31.4 H6.97 L5.3 39.2 Z M7.91 27 H14.09 L11 12.6 Z"/><path transform="translate(139.00 0)" d="M0.6 0 H6.4 L12.7 21.5 L19.0 0 H24.8 L14.2 32 H11.2 Z"/><path transform="translate(189.90 0)" d="M0 39.2 L8.4 0 H13.6 L22 39.2 H16.7 L15.03 31.4 H6.97 L5.3 39.2 Z M7.91 27 H14.09 L11 12.6 Z"/><path transform="translate(276.60 0)" d="M0.6 0 H6.4 L12.7 21.5 L19.0 0 H24.8 L14.2 32 H11.2 Z"/><path transform="translate(328.00 0)" d="M0.2 0 H6.1 L18.6 39.2 H12.7 Z"/><path transform="translate(423.80 0)" d="M0.2 0 H6.1 L18.6 39.2 H12.7 Z"/></g></g>
<clipPath id="xc1"><circle cx="1329.5" cy="227.5" r="57.5"/></clipPath>
<circle cx="1329.5" cy="227.5" r="57.5" fill="#f0544e"/>
<g clip-path="url(#xc1)"><rect x="-32.8" y="0" width="65.5" height="200" fill="#b11313" transform="translate(1329.5 227.5) rotate(-45)"/></g>
<g transform="translate(1329.5 227.5) rotate(45)">
<rect x="-32.8" y="-11.2" width="65.5" height="22.5" rx="5" fill="#fff"/>
<path d="M11.2 -11.2 H27.8 A5 5 0 0 1 32.8 -6.2 V6.2 A5 5 0 0 1 27.8 11.2 H11.2 Z" fill="#d8d8d8"/>
<rect x="-11.2" y="-32.8" width="22.5" height="65.5" rx="5" fill="#fff"/>
</g>
<clipPath id="cc"><circle cx="1329.5" cy="540.5" r="57.5"/></clipPath>
<circle cx="1329.5" cy="540.5" r="57.5" fill="#35b97b"/>
<g clip-path="url(#cc)"><rect x="-10.8" y="0" width="68.1" height="200" fill="#0fa26e" transform="translate(1321.3 557.5) rotate(-45)"/></g>
<g transform="translate(1321.3 557.5) rotate(-45)"><rect x="-10.8" y="-10.8" width="68.1" height="21.5" rx="4.5" fill="#fff"/></g>
<g transform="translate(1321.3 557.5) rotate(-135)"><rect x="-10.8" y="-10.8" width="43.8" height="21.5" rx="4.5" fill="#fff"/></g>
<clipPath id="xc2"><circle cx="1329.5" cy="850.5" r="57.5"/></clipPath>
<circle cx="1329.5" cy="850.5" r="57.5" fill="#f0544e"/>
<g clip-path="url(#xc2)"><rect x="-32.8" y="0" width="65.5" height="200" fill="#b11313" transform="translate(1329.5 850.5) rotate(-45)"/></g>
<g transform="translate(1329.5 850.5) rotate(45)">
<rect x="-32.8" y="-11.2" width="65.5" height="22.5" rx="5" fill="#fff"/>
<path d="M11.2 -11.2 H27.8 A5 5 0 0 1 32.8 -6.2 V6.2 A5 5 0 0 1 27.8 11.2 H11.2 Z" fill="#d8d8d8"/>
<rect x="-11.2" y="-32.8" width="22.5" height="65.5" rx="5" fill="#fff"/>
</g>
<clipPath id="xc3"><circle cx="1329.6" cy="1172.5" r="57.5"/></clipPath>
<circle cx="1329.6" cy="1172.5" r="57.5" fill="#f0544e"/>
<g clip-path="url(#xc3)"><rect x="-32.8" y="0" width="65.5" height="200" fill="#b11313" transform="translate(1329.6 1172.5) rotate(-45)"/></g>
<g transform="translate(1329.6 1172.5) rotate(45)">
<rect x="-32.8" y="-11.2" width="65.5" height="22.5" rx="5" fill="#fff"/>
<path d="M11.2 -11.2 H27.8 A5 5 0 0 1 32.8 -6.2 V6.2 A5 5 0 0 1 27.8 11.2 H11.2 Z" fill="#d8d8d8"/>
<rect x="-11.2" y="-32.8" width="22.5" height="65.5" rx="5" fill="#fff"/>
</g>
<path fill-rule="evenodd" fill="#0b0b0b" d="M1235.4 1444 A29.5 30.1 0 1 0 1294.4 1444 A29.5 30.1 0 1 0 1235.4 1444 Z M1252.3 1444 A12.45 13.2 0 1 0 1277.2 1444 A12.45 13.2 0 1 0 1252.3 1444 Z"/>
<path fill="#0b0b0b" d="M1298.1 1414.8 H1352.4 A12.5 12.5 0 0 1 1364.9 1427.3 V1472.9 H1347.1 V1432.3 A3 3 0 0 0 1344.1 1429.3 H1315.1 V1472.9 H1298.1 Z"/>
<rect x="1322.9" y="1436.9" width="17.1" height="36" fill="#0b0b0b"/>
<path fill="#d8312b" d="M1368.4 1472.6 L1386.4 1415 L1405.2 1415 L1424 1472.6 L1408.4 1472.6 L1394 1436.2 L1388 1459.4 L1398 1459.4 L1403.6 1472.6 Z"/>
<path fill="#d8312b" d="M1469.6 1415 V1429.4 H1460.8 A14.4 14.4 0 0 0 1460.8 1458.2 H1469.6 V1472.6 H1457.2 A28.8 28.8 0 0 1 1457.2 1415 Z"/>
</svg>
</body></html>
